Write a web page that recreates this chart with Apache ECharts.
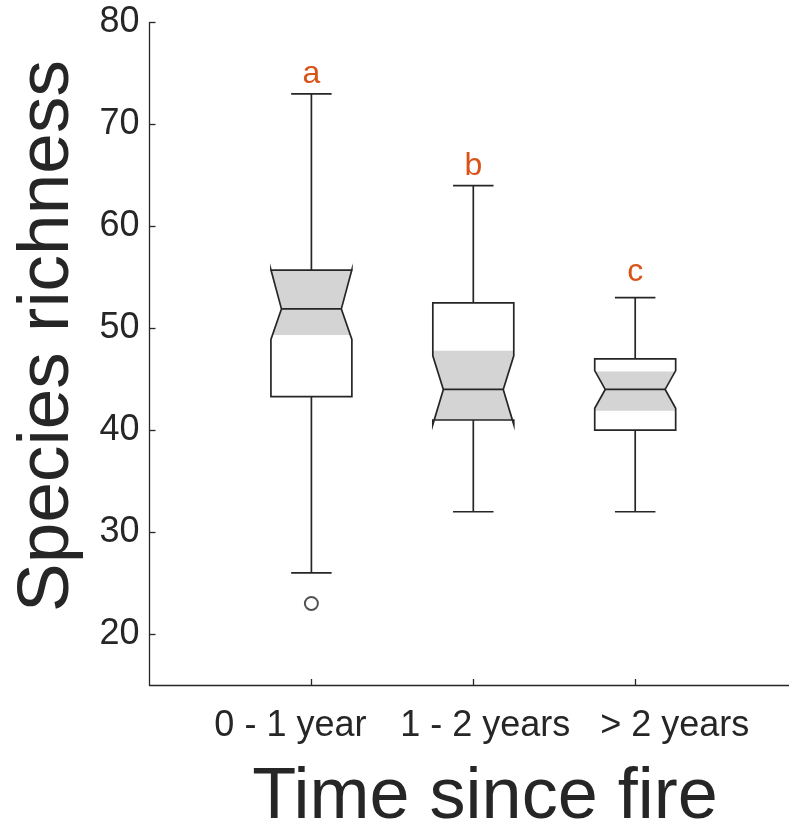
<!DOCTYPE html>
<html>
<head>
<meta charset="utf-8">
<script src="https://cdn.jsdelivr.net/npm/echarts@6/dist/echarts.min.js"></script>
<style>
html,body{margin:0;padding:0;background:#fff;}
#chart{width:789px;height:829px;}
</style>
</head>
<body>
<div id="chart"></div>
<script>
const categories = ['0 - 1 year', '1 - 2 years', '> 2 years'];
const whiskerLow = [26, 32, 32];
const q1 = [43.3, 41.0, 40.0];
const notchLow = [48.9, 40.55, 42.15];
const median = [51.9, 44.0, 44.0];
const notchHigh = [55.75, 47.3, 45.85];
const q3 = [55.7, 52.5, 47.0];
const whiskerHigh = [73, 64, 53];
const shadeLow = [49.35, 41.0, 41.9];
const shadeHigh = [55.7, 47.8, 45.75];
const outliers = [[1, 23]];
const letters = ['a', 'b', 'c'];
const letterY = [75.1, 66.1, 55.7];
const yTicks = [20, 30, 40, 50, 60, 70, 80];

const FONT = "'Liberation Sans', Arial, Helvetica, sans-serif";
const INK = '#262626';

const boxData = categories.map((c, i) => [i + 1, whiskerLow[i], q1[i], notchLow[i], median[i], notchHigh[i], q3[i], whiskerHigh[i], shadeLow[i], shadeHigh[i], i, letterY[i]]);

function renderBox(params, api) {
  const x = api.value(0);
  const wl = api.value(1), lo = api.value(2), nlo = api.value(3), med = api.value(4),
        nhi = api.value(5), hi = api.value(6), wh = api.value(7), sl = api.value(8), sh = api.value(9);
  const idx = api.value(10);
  const ly = api.value(11);
  const cx = api.coord([x, med])[0];
  const h = api.size([0.25, 0])[0];
  const cap = api.size([0.125, 0])[0];
  const inset = h * 0.26;
  const Y = v => api.coord([x, v])[1];
  function hw(v) {
    if (v >= nlo && v <= med) return h - inset * (v - nlo) / (med - nlo);
    if (v > med && v <= nhi) return h - inset * (nhi - v) / (nhi - med);
    return h;
  }
  const vals = [sl, nlo, med, nhi, sh].filter(v => v >= sl && v <= sh).sort((a, b) => a - b);
  const uniq = vals.filter((v, k) => k === 0 || v !== vals[k - 1]);
  const shadePts = [];
  uniq.forEach(v => shadePts.push([cx - hw(v), Y(v)]));
  uniq.slice().reverse().forEach(v => shadePts.push([cx + hw(v), Y(v)]));

  const outline = [
    [cx - h, Y(lo)], [cx - h, Y(nlo)], [cx - h + inset, Y(med)], [cx - h, Y(nhi)], [cx - h, Y(hi)],
    [cx + h, Y(hi)], [cx + h, Y(nhi)], [cx + h - inset, Y(med)], [cx + h, Y(nlo)], [cx + h, Y(lo)]
  ];
  const ls = { stroke: INK, lineWidth: 1.7, fill: null };
  return {
    type: 'group',
    children: [
      { type: 'polygon', shape: { points: shadePts }, style: { fill: '#d4d4d4', stroke: null } },
      { type: 'polygon', shape: { points: outline }, style: ls },
      { type: 'line', shape: { x1: cx - h + inset, y1: Y(med), x2: cx + h - inset, y2: Y(med) }, style: ls },
      { type: 'line', shape: { x1: cx, y1: Y(hi), x2: cx, y2: Y(wh) }, style: ls },
      { type: 'line', shape: { x1: cx, y1: Y(lo), x2: cx, y2: Y(wl) }, style: ls },
      { type: 'line', shape: { x1: cx - cap, y1: Y(wh), x2: cx + cap, y2: Y(wh) }, style: ls },
      { type: 'line', shape: { x1: cx - cap, y1: Y(wl), x2: cx + cap, y2: Y(wl) }, style: ls },
      { type: 'text', x: cx, y: Y(ly) + 1.5, style: { text: letters[idx], fill: '#D95319', fontSize: 32, fontFamily: FONT, align: 'center', verticalAlign: 'middle' } }
    ]
  };
}

const labelRich = {
  c0: { fontSize: 36, fontFamily: FONT, color: INK, padding: [0, 42, 0, 0] },
  c1: { fontSize: 36, fontFamily: FONT, color: INK, padding: [0, 0, 0, 24] },
  c2: { fontSize: 36, fontFamily: FONT, color: INK, padding: [0, 0, 0, 79] }
};

const chart = echarts.init(document.getElementById('chart'), null, { renderer: 'canvas' });
chart.setOption({
  animation: false,
  backgroundColor: '#ffffff',
  grid: { left: 149.5, top: 22.5, width: 639.5, height: 662.5, containLabel: false, outerBoundsMode: 'none' },
  xAxis: {
    type: 'value', min: 0, max: 3.95,
    splitLine: { show: false },
    axisLine: { show: true, onZero: false, lineStyle: { color: INK, width: 1.3 } },
    axisTick: { show: true, inside: true, length: 6, customValues: [1, 2, 3], lineStyle: { color: INK, width: 1.3 } },
    axisLabel: {
      customValues: [1, 2, 3], hideOverlap: false,
      formatter: v => { const i = Math.round(v) - 1; return '{c' + i + '|' + categories[i] + '}'; },
      rich: labelRich,
      color: INK, fontSize: 36, fontFamily: FONT, margin: 23
    }
  },
  yAxis: {
    type: 'value', min: 15, max: 80,
    splitLine: { show: false },
    axisLine: { show: true, onZero: false, lineStyle: { color: INK, width: 1.3 } },
    axisTick: { show: true, inside: true, length: 6, customValues: yTicks, lineStyle: { color: INK, width: 1.3 } },
    axisLabel: { customValues: yTicks, color: INK, fontSize: 36, fontFamily: FONT, margin: 10 }
  },
  graphic: [
    { type: 'text', x: 48, y: 336, rotation: Math.PI / 2, style: { text: 'Species richness', fill: INK, fontSize: 73, fontFamily: FONT, align: 'center', verticalAlign: 'middle' } },
    { type: 'text', x: 485, y: 798, style: { text: 'Time since fire', fill: INK, fontSize: 72, fontFamily: FONT, align: 'center', verticalAlign: 'middle' } }
  ],
  series: [
    { type: 'custom', renderItem: renderBox, data: boxData, encode: { x: 0, y: [1, 7] }, clip: false },
    { type: 'scatter', data: outliers, symbol: 'emptyCircle', symbolSize: 13, itemStyle: { color: INK, borderColor: INK, borderWidth: 1.7 } }
  ]
});
</script>
</body>
</html>
